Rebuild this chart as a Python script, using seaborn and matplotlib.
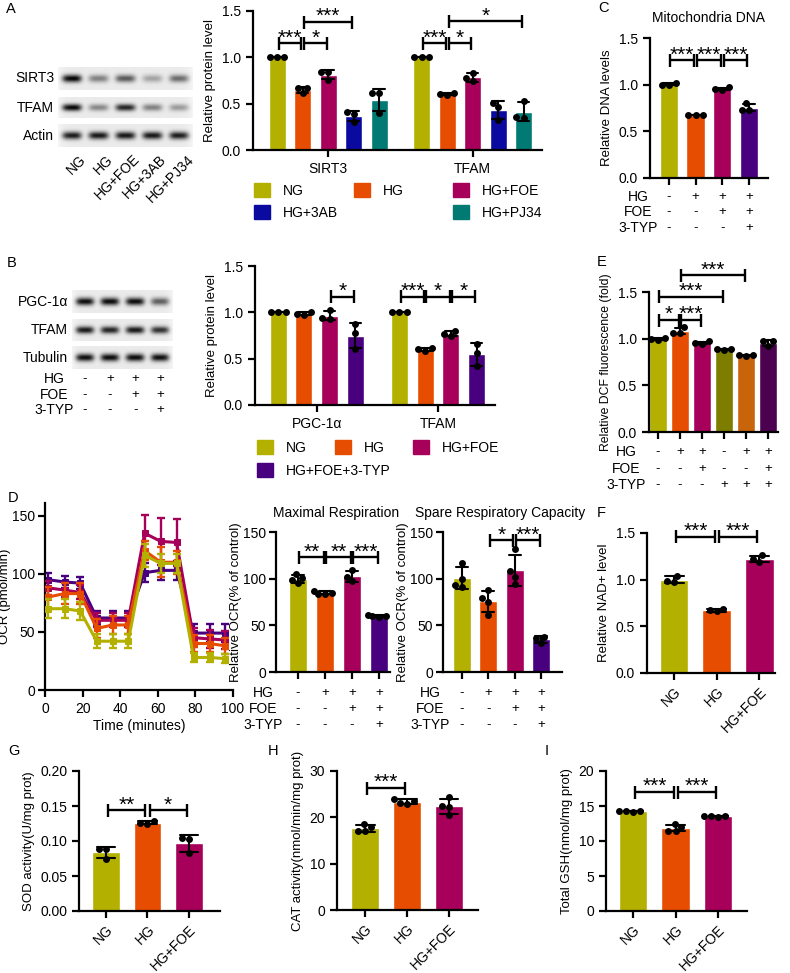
import matplotlib
matplotlib.use("Agg")
import matplotlib.pyplot as plt
import matplotlib.transforms as mtrans
from matplotlib.patches import Patch
import numpy as np
import pandas as pd
import seaborn as sns

W, H = 790, 973

sns.set_style("ticks")
plt.rcParams.update(
    {
        "font.family": ["Liberation Sans", "DejaVu Sans"],
        "font.size": 9.5,
        "axes.linewidth": 1.6,
        "axes.edgecolor": "black",
        "xtick.major.width": 1.6,
        "ytick.major.width": 1.6,
        "xtick.major.size": 5,
        "ytick.major.size": 5,
        "xtick.labelsize": 10,
        "ytick.labelsize": 10,
        "axes.labelsize": 9.5,
        "xtick.color": "black",
        "ytick.color": "black",
        "text.color": "black",
        "axes.labelcolor": "black",
    }
)

# colours
C_NG = "#b3b000"
C_HG = "#e64d00"
C_FOE = "#a6005a"
C_3AB = "#0a0aa0"
C_PJ = "#007a73"
C_TYP = "#48007f"

# ---------------- data ----------------
# A: western blot band strength + quantification
A_lanes = ["NG", "HG", "HG+FOE", "HG+3AB", "HG+PJ34"]
A_blot = {
    "SIRT3": [1.0, 0.45, 0.62, 0.3, 0.55],
    "TFAM": [1.0, 0.42, 0.85, 0.45, 0.35],
    "Actin": [0.9, 0.9, 0.9, 0.9, 0.9],
}
A_groups = ["SIRT3", "TFAM"]
A_sirt3 = [[1.0, 1.0, 1.0], [0.67, 0.67, 0.61], [0.84, 0.84, 0.76],
           [0.39, 0.41, 0.30], [0.61, 0.61, 0.40]]
A_tfam = [[1.0, 1.0, 1.0], [0.61, 0.60, 0.59], [0.83, 0.78, 0.74],
          [0.51, 0.46, 0.32], [0.53, 0.36, 0.35]]
A_sig = [(0, 0, 1, 1.15, "***"), (0, 1, 2, 1.15, "*"), (0, 1, 3, 1.38, "***"),
         (1, 0, 1, 1.15, "***"), (1, 1, 2, 1.15, "*"), (1, 1, 4, 1.39, "*")]

# B
B_lanes = ["NG", "HG", "HG+FOE", "HG+FOE+3-TYP"]
B_blot = {
    "PGC-1α": [0.95, 0.95, 0.95, 0.6],
    "TFAM": [0.9, 0.85, 0.9, 0.8],
    "Tubulin": [0.95, 0.95, 0.95, 0.95],
}
B_groups = ["PGC-1α", "TFAM"]
B_pgc = [[1.0, 1.0, 1.0], [1.0, 0.98, 0.97], [1.02, 0.94, 0.93], [0.87, 0.78, 0.60]]
B_tfam = [[1.0, 1.0, 1.0], [0.61, 0.60, 0.58], [0.80, 0.77, 0.74], [0.66, 0.56, 0.42]]
B_sig = [(0, 2, 3, 1.17, "*"), (1, 0, 1, 1.17, "***"), (1, 1, 2, 1.17, "*"),
         (1, 2, 3, 1.17, "*")]

TABLE4 = [("HG", ["-", "+", "+", "+"]), ("FOE", ["-", "-", "+", "+"]),
          ("3-TYP", ["-", "-", "-", "+"])]

# C
C_reps = [[1.02, 1.00, 1.00], [0.68, 0.68, 0.68], [0.97, 0.95, 0.94], [0.80, 0.73, 0.73]]
C_sig = [(0, 1, 1.26, "***"), (1, 2, 1.26, "***"), (2, 3, 1.26, "***")]

# E
E_reps = [[1.01, 1.00, 0.99], [1.12, 1.06, 1.06], [0.97, 0.95, 0.94],
          [0.89, 0.89, 0.88], [0.82, 0.82, 0.81], [0.97, 0.97, 0.92]]
E_colors = [C_NG, C_HG, C_FOE, "#7d7d00", "#c8640a", "#4b0050"]
E_sig = [(0, 1, 1.2, "*"), (1, 2, 1.2, "***"), (0, 3, 1.45, "***"), (1, 4, 1.68, "***")]
E_table = [("HG", ["-", "+", "+", "-", "+", "+"]), ("FOE", ["-", "-", "+", "-", "-", "+"]),
           ("3-TYP", ["-", "-", "-", "+", "+", "+"])]

# D: seahorse trace
D_time = [1.6, 10.4, 18.7, 27.5, 36, 44.3, 53, 61.5, 70, 79, 87.5, 96]
D_ng = [70, 70, 68, 42, 42, 42, 116, 109, 109, 28, 28, 27]
D_ng_sd = [8, 8, 8, 6, 6, 6, 10, 8, 8, 4, 4, 4]
D_hg = [80, 83, 83, 53, 56, 56, 120, 110, 110, 40, 40, 38]
D_hg_sd = [9, 9, 9, 8, 8, 8, 8, 13, 10, 7, 7, 7]
D_foe = [88, 86, 84, 60, 60, 60, 135, 128, 127, 45, 44, 43]
D_foe_sd = [6, 6, 6, 6, 6, 6, 16, 20, 20, 8, 8, 8]
D_typ = [95, 93, 92, 62, 62, 62, 101, 103, 103, 49, 49, 49]
D_typ_sd = [6, 5, 5, 6, 6, 6, 8, 8, 8, 8, 8, 8]

D_max = [[105, 101, 99, 95], [87, 85, 84, 84], [109, 102, 97], [61, 60, 60, 59]]
D_max_sig = [(0, 1, 123, "**"), (1, 2, 123, "**"), (2, 3, 123, "***")]
D_spare = [[117, 100, 93, 91], [88, 79, 75, 61], [132, 108, 102, 94], [38, 36, 31]]
D_spare_sig = [(1, 2, 141, "*"), (2, 3, 141, "***")]

# F, G, H, I
F_reps = [[1.04, 0.99, 0.97], [0.69, 0.67, 0.66], [1.26, 1.22, 1.19]]
F_sig = [(0, 1, 1.46, "***"), (1, 2, 1.46, "***")]
G_reps = [[0.089, 0.088, 0.074], [0.128, 0.126, 0.125], [0.104, 0.103, 0.083]]
G_sig = [(0, 1, 0.144, "**"), (1, 2, 0.144, "*")]
H_reps = [[18.5, 18.0, 17.0, 17.0], [24.0, 23.5, 23.0, 22.8], [24.4, 22.2, 22.4, 20.4]]
H_sig = [(0, 1, 26.3, "***")]
I_reps = [[14.3, 14.3, 14.3, 14.2], [12.4, 12.0, 11.5, 11.4], [13.6, 13.6, 13.6, 13.5]]
I_sig = [(0, 1, 17, "***"), (1, 2, 17, "***")]
NG3 = ["NG", "HG", "HG+FOE"]

fig = plt.figure(figsize=(W / 100, H / 100), dpi=100)


def add_ax(x0, y0, x1, y1):
    return fig.add_axes([x0 / W, 1 - y1 / H, (x1 - x0) / W, (y1 - y0) / H])


def ftext(x, y, s, **kw):
    fig.text(x / W, 1 - y / H, s, **kw)


def bracket(ax, x1, x2, y, label, shrink=0.05):
    lo, hi = ax.get_ylim()
    h = 6.5 * (hi - lo) / ax.get_window_extent().height
    xa, xb = x1 + shrink, x2 - shrink
    kw = dict(color="black", lw=1.7, clip_on=False, solid_capstyle="butt")
    ax.plot([xa, xb], [y, y], **kw)
    ax.plot([xa, xa], [y - h, y + h], **kw)
    ax.plot([xb, xb], [y - h, y + h], **kw)
    ax.annotate(label, xy=((x1 + x2) / 2, y), xytext=(0, -3), textcoords="offset points",
                ha="center", va="bottom", fontsize=15, annotation_clip=False)


def simple_bars(ax, conds, reps, colors, width):
    rows = [(c, v) for c, r in zip(conds, reps) for v in r]
    df = pd.DataFrame(rows, columns=["cond", "val"])
    sns.barplot(data=df, x="cond", y="val", hue="cond", order=conds, hue_order=conds,
                palette=colors, errorbar="sd", capsize=0.45, width=width, saturation=1,
                err_kws={"color": "black", "linewidth": 1.5}, legend=False, ax=ax)
    sns.swarmplot(data=df, x="cond", y="val", order=conds, color="black", size=5, ax=ax)
    ax.set_xlabel("")
    sns.despine(ax=ax)


def grouped_bars(ax, groups, conds, reps_list, colors, step, width):
    rows = []
    for g, reps in enumerate(reps_list):
        for i, c in enumerate(conds):
            pos = g + (i - (len(conds) - 1) / 2) * step
            for v in reps[i]:
                rows.append((round(pos, 4), c, v))
    df = pd.DataFrame(rows, columns=["pos", "cond", "val"])
    sns.barplot(data=df, x="pos", y="val", hue="cond", hue_order=conds, palette=colors,
                native_scale=True, dodge=False, errorbar="sd", capsize=0.45, width=width,
                saturation=1, err_kws={"color": "black", "linewidth": 1.5}, legend=False, ax=ax)
    sns.swarmplot(data=df, x="pos", y="val", native_scale=True, color="black", size=5, ax=ax)
    ax.set_xticks(range(len(groups)))
    ax.set_xticklabels(groups)
    ax.set_xlabel("")
    sns.despine(ax=ax)


def sign_table(ax, xs, table, label_x, ys):
    tr = mtrans.blended_transform_factory(ax.transData, fig.transFigure)
    for (name, signs), y in zip(table, ys):
        ftext(label_x, y, name, ha="center", va="center", fontsize=10)
        for x, s in zip(xs, signs):
            ax.text(x, 1 - y / H, s, transform=tr, ha="center", va="center",
                    fontsize=9.5, clip_on=False)


def blot_row(ax, strengths):
    n = len(strengths)
    xs = np.linspace(0, n, 300)
    ys = np.linspace(-1, 1, 40)
    img = np.full((len(ys), len(xs)), 0.92)
    for i, v in enumerate(strengths):
        px = np.exp(-((xs - (i + 0.5)) / 0.37) ** 4)
        py = np.exp(-(ys / 0.34) ** 2)
        img -= 0.92 * v * np.outer(py, px)
    img = np.clip(img, 0, 1)
    edge = np.exp(-((xs - n / 2) / (n / 2 * 1.02)) ** 16)
    img = 1 - (1 - img) * edge[None, :]
    ax.imshow(img, cmap="gray", vmin=0, vmax=1, aspect="auto", extent=(0, n, 1, 0),
              interpolation="bilinear")
    ax.axis("off")


def fmt1(ax, ticks, fmt):
    ax.set_yticks(ticks)
    ax.set_yticklabels([fmt % t for t in ticks])


# ---------------- A ----------------
ftext(6, 9, "A", fontsize=10.5, va="center")
for (name, s), (y0, y1) in zip(A_blot.items(), [(67, 90), (97, 118), (124, 147)]):
    bax = add_ax(58, y0, 193, y1)
    blot_row(bax, s)
    ftext(54, (y0 + y1) / 2, name, ha="right", va="center", fontsize=10)
for i, lane in enumerate(A_lanes):
    ftext(58 + (i + 0.5) * 27 + 7, 152, lane, rotation=45, ha="right", va="top",
          rotation_mode="anchor", fontsize=10)

axA = add_ax(253, 11, 542, 150)
A_colors = [C_NG, C_HG, C_FOE, C_3AB, C_PJ]
A_step = 0.1766
grouped_bars(axA, A_groups, A_lanes, [A_sirt3, A_tfam], A_colors, A_step, 0.66)
axA.set_ylim(0, 1.5)
axA.set_xlim(-0.52, 1.48)
fmt1(axA, [0, 0.5, 1.0, 1.5], "%.1f")
axA.set_ylabel("Relative protein level")
for g, i, j, y, lab in A_sig:
    bracket(axA, g + (i - 2) * A_step, g + (j - 2) * A_step, y, lab, shrink=0.01)

hA = [Patch(color=c) for c in A_colors]
blank = Patch(color="none")
legA = axA.legend([hA[0], hA[3], hA[1], blank, hA[2], hA[4]],
                  ["NG", "HG+3AB", "HG", "HG+3AB", "HG+FOE", "HG+PJ34"],
                  ncol=3, loc="upper left", bbox_to_anchor=(254 / W, 1 - 183 / H),
                  bbox_transform=fig.transFigure, frameon=False, fontsize=10,
                  handlelength=1.15, handleheight=1.15, handletextpad=0.95,
                  columnspacing=1.1, labelspacing=0.55, borderpad=0, borderaxespad=0)
legA.get_texts()[3].set_alpha(0)

# ---------------- C ----------------
ftext(598, 8, "C", fontsize=10.5, va="center")
axC = add_ax(650, 38, 768, 178)
simple_bars(axC, B_lanes, C_reps, [C_NG, C_HG, C_FOE, C_TYP], 0.68)
axC.set_ylim(0, 1.5)
axC.set_xlim(-0.71, 3.72)
fmt1(axC, [0, 0.5, 1.0, 1.5], "%.1f")
axC.set_xticklabels([])
axC.set_ylabel("Relative DNA levels")
ftext(708, 18, "Mitochondria DNA", ha="center", va="center", fontsize=10)
for i, j, y, lab in C_sig:
    bracket(axC, i, j, y, lab)
sign_table(axC, range(4), TABLE4, 638, [197, 212, 228])

# ---------------- B ----------------
ftext(7, 263, "B", fontsize=10.5, va="center")
for (name, s), (y0, y1) in zip(B_blot.items(), [(290, 313), (319, 341), (346, 369)]):
    bax = add_ax(72, y0, 173, y1)
    blot_row(bax, s)
    ftext(68, (y0 + y1) / 2, name, ha="right", va="center", fontsize=10)
tab_ax = add_ax(72, 372, 173, 373)
tab_ax.set_xlim(0, 4)
tab_ax.axis("off")
sign_table(tab_ax, [0.5, 1.5, 2.5, 3.5], TABLE4, 54, [379, 395, 410])

axB = add_ax(255, 266, 495, 405)
B_colors = [C_NG, C_HG, C_FOE, C_TYP]
B_step = 0.212
grouped_bars(axB, B_groups, B_lanes, [B_pgc, B_tfam], B_colors, B_step, 0.66)
axB.set_ylim(0, 1.5)
axB.set_xlim(-0.51, 1.47)
fmt1(axB, [0, 0.5, 1.0, 1.5], "%.1f")
axB.set_ylabel("Relative protein level")
for g, i, j, y, lab in B_sig:
    bracket(axB, g + (i - 1.5) * B_step, g + (j - 1.5) * B_step, y, lab, shrink=0.01)

hB = [Patch(color=c) for c in B_colors]
legB1 = axB.legend(hB[:3], B_lanes[:3], ncol=3, loc="upper left",
                   bbox_to_anchor=(257 / W, 1 - 440 / H), bbox_transform=fig.transFigure,
                   frameon=False, fontsize=10, handlelength=1.15, handleheight=1.15,
                   handletextpad=0.95, columnspacing=2.0, borderpad=0, borderaxespad=0)
axB.add_artist(legB1)
axB.legend(hB[3:], B_lanes[3:], loc="upper left",
           bbox_to_anchor=(257 / W, 1 - 463 / H), bbox_transform=fig.transFigure,
           frameon=False, fontsize=10, handlelength=1.15, handleheight=1.15,
           handletextpad=0.95, borderpad=0, borderaxespad=0)

# ---------------- E ----------------
ftext(597, 262, "E", fontsize=10.5, va="center")
axE = add_ax(649, 292, 778, 432)
E_conds = ["NG", "HG", "HG+FOE", "3-TYP", "HG+3-TYP", "HG+FOE+3-TYP"]
simple_bars(axE, E_conds, E_reps, E_colors, 0.8)
axE.set_ylim(0, 1.5)
axE.set_xlim(-0.41, 5.45)
fmt1(axE, [0, 0.5, 1.0, 1.5], "%.1f")
axE.set_xticklabels([])
axE.set_ylabel("Relative DCF fluorescence (fold)", fontsize=8.8)
for i, j, y, lab in E_sig:
    bracket(axE, i, j, y, lab, shrink=0.03)
sign_table(axE, range(6), E_table, 626, [452, 469, 485])

# ---------------- D ----------------
ftext(8, 498, "D", fontsize=10.5, va="center")
axD = add_ax(45, 503, 233, 690)
series = [("HG+FOE+3-TYP", D_typ, D_typ_sd, C_TYP), ("HG+FOE", D_foe, D_foe_sd, C_FOE),
          ("HG", D_hg, D_hg_sd, C_HG), ("NG", D_ng, D_ng_sd, C_NG)]
for k, (name, vals, sd, col) in enumerate(series):
    d = pd.DataFrame({"t": D_time, "ocr": vals})
    axD.errorbar(D_time, vals, yerr=sd, fmt="none", ecolor=col, elinewidth=1.7,
                 capsize=3, capthick=1.7, zorder=2 + k)
    sns.lineplot(data=d, x="t", y="ocr", color=col, marker="s", markersize=5,
                 markeredgecolor=col, linewidth=2.2, ax=axD, zorder=2 + k)
axD.set_xlim(0, 100)
axD.set_ylim(0, 161)
axD.set_xticks([0, 20, 40, 60, 80, 100])
axD.set_yticks([0, 50, 100, 150])
axD.tick_params(axis="y", pad=2)
axD.set_xlabel("Time (minutes)", fontsize=10, labelpad=2)
axD.set_ylabel("OCR (pmol/min)", labelpad=1)
sns.despine(ax=axD)

axM = add_ax(276, 532, 390, 672)
simple_bars(axM, B_lanes, D_max, B_colors, 0.67)
axM.set_ylim(0, 150)
axM.set_xlim(-0.81, 3.4)
axM.set_yticks([0, 50, 100, 150])
axM.set_xticklabels([])
axM.tick_params(axis="y", pad=2)
axM.set_ylabel("Relative OCR(% of control)", labelpad=1)
ftext(336, 513, "Maximal Respiration", ha="center", va="center", fontsize=10)
for i, j, y, lab in D_max_sig:
    bracket(axM, i, j, y, lab)
sign_table(axM, range(4), TABLE4, 263, [693, 709, 725])

axS = add_ax(443, 532, 562, 672)
simple_bars(axS, B_lanes, D_spare, B_colors, 0.68)
axS.set_ylim(0, 150)
axS.set_xlim(-0.72, 3.79)
axS.set_yticks([0, 50, 100, 150])
axS.set_xticklabels([])
axS.tick_params(axis="y", pad=2)
axS.set_ylabel("Relative OCR(% of control)", labelpad=1)
ftext(500, 513, "Spare Respiratory Capacity", ha="center", va="center", fontsize=10)
for i, j, y, lab in D_spare_sig:
    bracket(axS, i, j, y, lab)
sign_table(axS, range(4), TABLE4, 430, [693, 709, 725])

# ---------------- F G H I ----------------
ftext(597, 513, "F", fontsize=10.5, va="center")
ftext(8, 751, "G", fontsize=10.5, va="center")
ftext(268, 751, "H", fontsize=10.5, va="center")
ftext(545, 751, "I", fontsize=10.5, va="center")

three = [C_NG, C_HG, C_FOE]
panels = [
    ((647, 533, 775, 673), F_reps, F_sig, (0, 1.5), [0, 0.5, 1.0, 1.5], "%.1f",
     (-0.64, 2.37), "Relative NAD+ level"),
    ((79, 771, 220, 911), G_reps, G_sig, (0, 0.2), [0, 0.05, 0.10, 0.15, 0.20], "%.2f",
     (-0.65, 2.75), "SOD activity(U/mg prot)"),
    ((337, 771, 478, 910), H_reps, H_sig, (0, 30), [0, 10, 20, 30], "%d",
     (-0.67, 2.69), "CAT activity(nmol/min/mg prot)"),
    ((606, 771, 747, 911), I_reps, I_sig, (0, 20), [0, 5, 10, 15, 20], "%d",
     (-0.64, 2.68), "Total GSH(nmol/mg prot)"),
]
for rect, reps, sig, ylim, yt, fmt, xlim, ylab in panels:
    ax = add_ax(*rect)
    simple_bars(ax, NG3, reps, three, 0.67)
    ax.set_ylim(*ylim)
    ax.set_xlim(*xlim)
    fmt1(ax, yt, fmt)
    ax.set_ylabel(ylab)
    plt.setp(ax.get_xticklabels(), rotation=45, ha="right", rotation_mode="anchor")
    for i, j, y, lab in sig:
        bracket(ax, i, j, y, lab)

fig.savefig("out.png", dpi=100)
